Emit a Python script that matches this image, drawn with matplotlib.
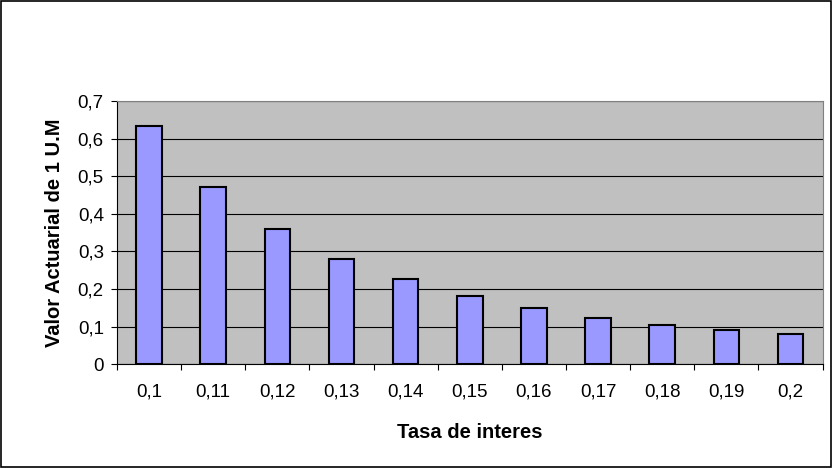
import matplotlib
matplotlib.use("Agg")
import matplotlib.pyplot as plt
from matplotlib.patches import Rectangle

categories = ["0,1", "0,11", "0,12", "0,13", "0,14", "0,15", "0,16", "0,17", "0,18", "0,19", "0,2"]
values = [0.634, 0.471, 0.359, 0.280, 0.227, 0.180, 0.148, 0.123, 0.105, 0.091, 0.079]
yticks = [0, 0.1, 0.2, 0.3, 0.4, 0.5, 0.6, 0.7]
ytick_labels = ["0", "0,1", "0,2", "0,3", "0,4", "0,5", "0,6", "0,7"]

plt.rcParams['font.family'] = ['Liberation Sans', 'DejaVu Sans']

fig = plt.figure(figsize=(8.33, 4.68), dpi=100)
fig.patch.set_facecolor('white')
fig.add_artist(Rectangle((0.001, 0.002), 0.997, 0.995, transform=fig.transFigure,
                         fill=False, edgecolor='black', linewidth=1.2))

ax = fig.add_axes([0.1405, 0.222, 0.847, 0.562])
ax.set_facecolor('#C0C0C0')
x = list(range(len(categories)))
ax.bar(x, values, width=0.4, color='#9999FF', edgecolor='black', linewidth=1.5, zorder=3)
ax.set_xlim(-0.5, len(categories) - 0.5)
ax.set_ylim(0, 0.7)
ax.set_yticks(yticks)
ax.set_yticklabels(ytick_labels, fontsize=13.5)
ax.set_xticks([i + 0.5 for i in range(-1, len(categories))], minor=False)
ax.set_xticklabels([])
ax.set_xticks(x, minor=True)
ax.set_xticklabels(categories, minor=True, fontsize=13.5)
ax.tick_params(axis='x', which='minor', length=0, pad=14)
ax.tick_params(axis='x', which='major', length=4.5, direction='out')
ax.tick_params(axis='y', length=4.5, direction='out', pad=5)
ax.yaxis.grid(True, color='black', linewidth=0.8, zorder=0)
ax.set_axisbelow(True)
for s in ['top', 'right']:
    ax.spines[s].set_color('#808080')
for s in ['left', 'bottom']:
    ax.spines[s].set_color('black')
ax.set_xlabel('Tasa de interes', fontsize=14.5, fontweight='bold', labelpad=16)
ax.set_ylabel('Valor Actuarial de 1 U.M', fontsize=14.5, fontweight='bold', labelpad=10)

fig.savefig('out.png', dpi=100)
